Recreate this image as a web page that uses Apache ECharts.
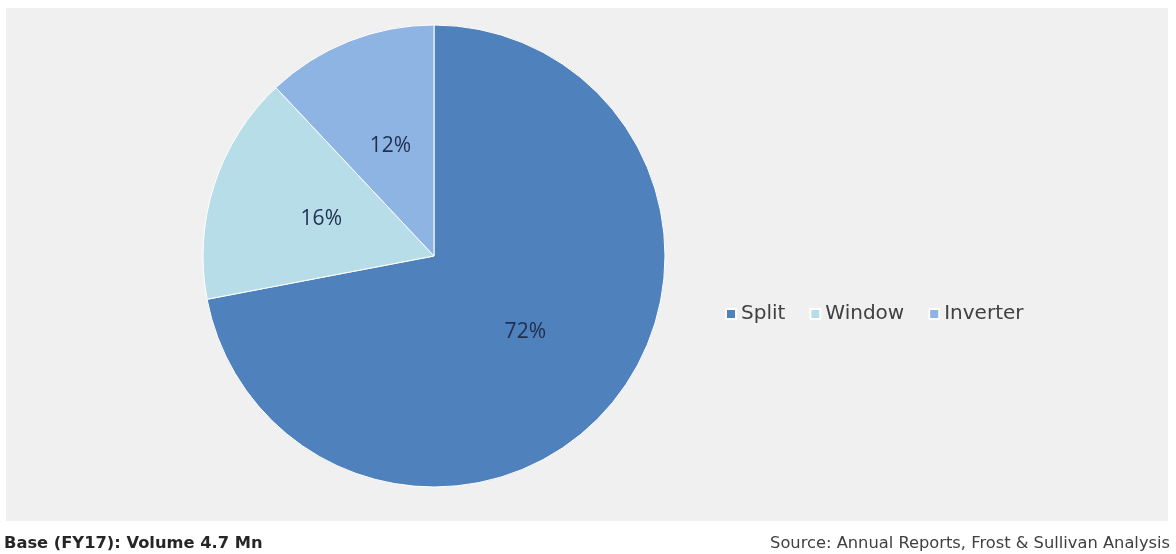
<!DOCTYPE html>
<html>
<head>
<meta charset="utf-8">
<script src="https://cdn.jsdelivr.net/npm/echarts@6/dist/echarts.min.js"></script>
<style>
html,body{margin:0;padding:0;background:#ffffff;}
#chart{width:1176px;height:554px;}
</style>
</head>
<body>
<div id="chart"></div>
<script>
const categories = ['Split', 'Window', 'Inverter'];
const shares = [72, 16, 12];
const colors = ['#4f81bd', '#b7dee8', '#8eb4e3'];

const chart = echarts.init(document.getElementById('chart'));
const font = '"Open Sans", "Noto Sans", sans-serif';
const wideFont = '"DejaVu Sans", "Open Sans", sans-serif';
chart.setOption({
  backgroundColor: '#ffffff',
  animation: false,
  graphic: [
    { type: 'rect', left: 6, top: 8, shape: { width: 1162, height: 513 }, style: { fill: '#f0f0f0' }, z: -10 },
    { type: 'text', left: 4, top: 536, style: { text: 'Base (FY17): Volume 4.7 Mn', font: 'bold 16.3px ' + wideFont, fill: '#262626' } },
    { type: 'text', right: 6, top: 536, style: { text: 'Source: Annual Reports, Frost & Sullivan Analysis', font: '16.3px ' + wideFont, fill: '#404040' } }
  ],
  legend: {
    data: categories,
    left: 720,
    top: 299,
    icon: 'rect',
    itemWidth: 10,
    itemHeight: 10,
    itemGap: 24,
    textStyle: { fontFamily: wideFont, fontSize: 20, color: '#404040' }
  },
  series: [{
    type: 'pie',
    center: [434, 256],
    radius: [0, 231],
    startAngle: 90,
    clockwise: true,
    data: categories.map((c, i) => ({ name: c, value: shares[i], itemStyle: { color: colors[i] } })),
    itemStyle: { borderColor: '#ffffff', borderWidth: 1 },
    label: {
      show: true,
      position: 'inside',
      formatter: p => p.value + '%',
      fontFamily: font,
      fontSize: 21,
      color: '#1f2f4f'
    },
    labelLine: { show: false },
    emphasis: { disabled: true }
  }]
});
</script>
</body>
</html>
